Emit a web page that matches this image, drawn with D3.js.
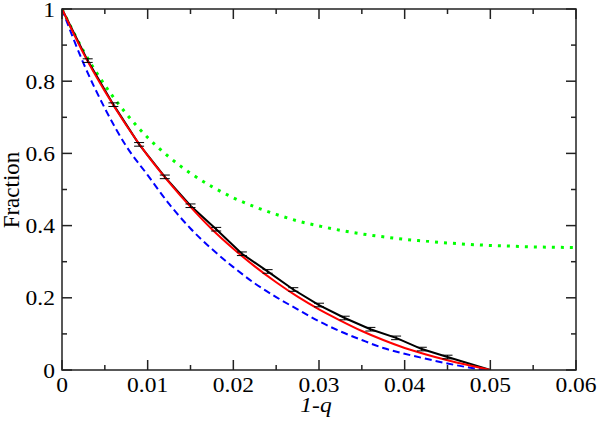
<!DOCTYPE html>
<html><head><meta charset="utf-8">
<script src="https://cdn.jsdelivr.net/npm/d3@7"></script>
<style>body{margin:0;background:#fff}svg{display:block}text{font-family:"Liberation Serif","Times New Roman",serif}</style>
</head><body>
<svg id="c" width="600" height="423"></svg>
<script>
// Simulation data (black, with error bars)
const simX = [0, 0.003, 0.006, 0.009, 0.012, 0.015, 0.018, 0.021, 0.024, 0.027, 0.030, 0.033, 0.036, 0.039, 0.042, 0.045, 0.05];
const simY = [1, 0.857, 0.735, 0.625, 0.535, 0.455, 0.39, 0.322, 0.273, 0.223, 0.18, 0.144, 0.113, 0.089, 0.058, 0.036, 0];
const simErr = [0, 0.005, 0.005, 0.005, 0.005, 0.005, 0.005, 0.005, 0.005, 0.005, 0.005, 0.005, 0.005, 0.005, 0.005, 0.005, 0];
// Red theory curve
const redX = [0, 0.0025, 0.005, 0.0075, 0.01, 0.0125, 0.015, 0.0175, 0.02, 0.0225, 0.025, 0.0275, 0.03, 0.0325, 0.035, 0.0375, 0.04, 0.0425, 0.045, 0.0475, 0.05];
const redY = [1, 0.877, 0.772, 0.678, 0.594, 0.52, 0.452, 0.39, 0.336, 0.287, 0.243, 0.203, 0.168, 0.137, 0.108, 0.083, 0.061, 0.043, 0.027, 0.013, 0];
// Blue dashed curve
const blueX = [0, 0.0025, 0.005, 0.0075, 0.01, 0.0125, 0.015, 0.0175, 0.02, 0.0225, 0.025, 0.0275, 0.03, 0.0325, 0.035, 0.0375, 0.04, 0.0425, 0.045, 0.0475, 0.0494];
const blueY = [1, 0.85, 0.725, 0.62, 0.54, 0.46, 0.392, 0.335, 0.285, 0.24, 0.202, 0.168, 0.135, 0.107, 0.083, 0.061, 0.045, 0.031, 0.018, 0.007, 0];
// Green dotted curve
const greenX = [0, 0.0025, 0.005, 0.0075, 0.01, 0.0125, 0.015, 0.0175, 0.02, 0.0225, 0.025, 0.0275, 0.03, 0.0325, 0.035, 0.0375, 0.04, 0.0425, 0.045, 0.0475, 0.05, 0.0525, 0.055, 0.0575, 0.06];
const greenY = [1, 0.884, 0.789, 0.71, 0.644, 0.59, 0.545, 0.508, 0.477, 0.452, 0.431, 0.413, 0.399, 0.387, 0.377, 0.369, 0.362, 0.357, 0.352, 0.348, 0.345, 0.343, 0.341, 0.34, 0.339];
const xTicks = [0, 0.01, 0.02, 0.03, 0.04, 0.05, 0.06];
const xTickLabels = ["0", "0.01", "0.02", "0.03", "0.04", "0.05", "0.06"];
const yTicks = [0, 0.2, 0.4, 0.6, 0.8, 1];
const yTickLabels = ["0", "0.2", "0.4", "0.6", "0.8", "1"];
const xTitle = "1-q";
const yTitle = "Fraction";

const L = 62, R = 576, T = 9, B = 370;
const svg = d3.select("#c");
const x = d3.scaleLinear().domain([0, 0.06]).range([L, R]);
const y = d3.scaleLinear().domain([0, 1]).range([B, T]);

svg.append("defs").append("clipPath").attr("id", "cp")
  .append("rect").attr("x", L).attr("y", T - 2).attr("width", R - L).attr("height", B - T + 2);

const g = svg.append("g").attr("clip-path", "url(#cp)");
const zip = (xs, ys) => xs.map((v, i) => [v, ys[i]]);
const line = d3.line().x(d => x(d[0])).y(d => y(d[1]));
const smooth = d3.line().x(d => x(d[0])).y(d => y(d[1])).curve(d3.curveMonotoneX);

g.append("path").attr("d", smooth(zip(greenX, greenY))).attr("fill", "none")
  .attr("stroke", "#00ff00").attr("stroke-width", 3).attr("stroke-dasharray", "3,6");
g.append("path").attr("d", smooth(zip(blueX, blueY))).attr("fill", "none")
  .attr("stroke", "#0000ff").attr("stroke-width", 2).attr("stroke-dasharray", "7,4");
g.append("path").attr("d", line(zip(simX, simY))).attr("fill", "none")
  .attr("stroke", "#000").attr("stroke-width", 2);
g.append("path").attr("d", smooth(zip(redX, redY))).attr("fill", "none")
  .attr("stroke", "#ff0000").attr("stroke-width", 2);

// error bars
simX.forEach((xv, i) => {
  if (simErr[i] <= 0) return;
  const cx = x(xv), y1 = y(simY[i] + simErr[i]), y2 = y(simY[i] - simErr[i]);
  g.append("line").attr("x1", cx).attr("x2", cx).attr("y1", y1).attr("y2", y2).attr("stroke", "#000").attr("stroke-width", 1);
  [y1, y2].forEach(yy => g.append("line").attr("x1", cx - 5).attr("x2", cx + 5).attr("y1", yy).attr("y2", yy)
    .attr("stroke", "#000").attr("stroke-width", 1));
});

// frame
svg.append("rect").attr("x", L).attr("y", T).attr("width", R - L).attr("height", B - T)
  .attr("fill", "none").attr("stroke", "#222").attr("stroke-width", 1.5);

// ticks (inward on all sides)
const ax = svg.append("g").attr("stroke", "#222").attr("stroke-width", 1.5);
const xMinor = d3.range(0, 13).map(i => i * 0.005);
const yMinor = d3.range(0, 11).map(i => i * 0.1);
xMinor.forEach(v => {
  const major = xTicks.some(t => Math.abs(t - v) < 1e-9);
  const len = major ? 10 : 5;
  ax.append("line").attr("x1", x(v)).attr("x2", x(v)).attr("y1", B).attr("y2", B - len);
  ax.append("line").attr("x1", x(v)).attr("x2", x(v)).attr("y1", T).attr("y2", T + len);
});
yMinor.forEach(v => {
  const major = yTicks.some(t => Math.abs(t - v) < 1e-9);
  const len = major ? 10 : 5;
  ax.append("line").attr("x1", L).attr("x2", L + len).attr("y1", y(v)).attr("y2", y(v));
  ax.append("line").attr("x1", R).attr("x2", R - len).attr("y1", y(v)).attr("y2", y(v));
});

// tick labels (slightly widened glyphs to match reference)
const SX = 1.12;
xTicks.forEach((v, i) => {
  svg.append("text").attr("transform", `translate(${x(v)},392) scale(${SX},1)`).attr("text-anchor", "middle")
    .style("font-size", "21px").attr("fill", "#000").text(xTickLabels[i]);
});
yTicks.forEach((v, i) => {
  svg.append("text").attr("transform", `translate(55,${y(v) + 7.5}) scale(${SX},1)`).attr("text-anchor", "end")
    .style("font-size", "21px").attr("fill", "#000").text(yTickLabels[i]);
});

svg.append("text").attr("transform", `translate(316,412) scale(${SX},1)`).attr("text-anchor", "middle")
  .style("font-size", "21px").style("font-style", "italic").attr("fill", "#000").text(xTitle);
svg.append("text").attr("transform", "translate(19,190) rotate(-90)")
  .attr("text-anchor", "middle").style("font-size", "23px").attr("fill", "#000").text(yTitle);
</script>
</body></html>
